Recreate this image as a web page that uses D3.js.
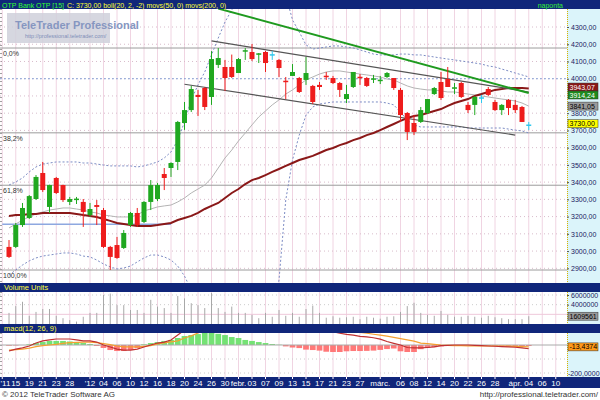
<!DOCTYPE html>
<html><head><meta charset="utf-8">
<script src="https://cdn.jsdelivr.net/npm/d3@7/dist/d3.min.js"></script>
<style>html,body{margin:0;padding:0;background:#fff;overflow:hidden}svg{display:block}</style>
</head><body><svg id="chart" width="600" height="400"></svg>
<script>
// ---------------- DATA ----------------
const dates = ["2011-12-13","2011-12-14","2011-12-15","2011-12-16","2011-12-19","2011-12-20","2011-12-21","2011-12-22","2011-12-23","2011-12-27","2011-12-28","2011-12-29","2011-12-30",
"2012-01-02","2012-01-03","2012-01-04","2012-01-05","2012-01-06","2012-01-09","2012-01-10","2012-01-11","2012-01-12","2012-01-13","2012-01-16","2012-01-17","2012-01-18","2012-01-19","2012-01-20","2012-01-23","2012-01-24","2012-01-25","2012-01-26","2012-01-27","2012-01-30","2012-01-31",
"2012-02-01","2012-02-02","2012-02-03","2012-02-06","2012-02-07","2012-02-08","2012-02-09","2012-02-10","2012-02-13","2012-02-14","2012-02-15","2012-02-16","2012-02-17","2012-02-20","2012-02-21","2012-02-22","2012-02-23","2012-02-24","2012-02-27","2012-02-28","2012-02-29",
"2012-03-01","2012-03-02","2012-03-05","2012-03-06","2012-03-07","2012-03-08","2012-03-09","2012-03-12","2012-03-13","2012-03-14","2012-03-19","2012-03-20","2012-03-21","2012-03-22","2012-03-23","2012-03-26","2012-03-27","2012-03-28","2012-03-29","2012-03-30",
"2012-04-02","2012-04-03","2012-04-04","2012-04-05","2012-04-06","2012-04-09","2012-04-10","2012-04-11"];

const candleDates = dates.slice(1, 79);

const open = [3024,3024,3151,3192,3302,3453,3256,3424,3383,3285,
3292,3285,3209,3267,3238,3024,3035,3018,3151,3221,
3169,3285,3302,3447,3482,3517,3743,3818,3906,3946,
3894,4080,4068,4068,4033,4155,4155,4138,4155,4138,
4109,3984,4016,4004,3993,3958,3964,4013,4004,3975,
3882,3952,4007,4004,3993,3984,4010,4004,3935,3801,
3743,3749,3801,3911,3981,3998,3943,3975,3848,3848,
3888,3940,3865,3818,3877,3848,3836,3730];
const high = [3064,3163,3279,3325,3441,3517,3385,3430,3385,3314,
3314,3302,3279,3296,3250,3030,3082,3122,3227,3250,
3290,3412,3395,3482,3515,3755,3865,3958,3935,3952,
4160,4178,4109,4140,4120,4178,4201,4149,4161,4161,
4114,4010,4085,4010,4126,3964,3981,4039,4016,3981,
3964,4039,4027,4010,4022,4016,4039,4004,3946,3807,
3789,3836,3882,3952,4039,4068,3975,3981,3865,3900,
3906,3952,3877,3853,3882,3877,3842,3749];
const low = [2960,3018,3140,3186,3296,3343,3221,3331,3285,3267,
3273,3140,3198,3151,3018,2890,2955,3012,3140,3140,
3163,3238,3290,3354,3430,3470,3703,3807,3784,3818,
3848,4062,3929,4004,4033,4109,4103,4091,4039,4109,
4010,3882,4016,3917,3964,3853,3935,3993,3969,3894,
3859,3946,3964,3952,3975,3969,4004,3935,3749,3644,
3673,3743,3795,3906,3877,3952,3911,3888,3801,3789,
3859,3900,3813,3789,3789,3801,3749,3702];
const close = [2966,3151,3250,3319,3430,3354,3383,3337,3296,3302,
3300,3227,3244,3256,3024,2966,2960,3105,3221,3151,
3285,3383,3383,3424,3511,3749,3818,3940,3894,3836,
4114,4120,4004,4010,4114,4161,4114,4143,4091,4138,
4062,3981,4039,3923,4033,3865,3952,4010,3975,3935,
3911,4039,4004,3958,3998,3990,4033,3946,3789,3691,
3691,3818,3882,3946,3888,3952,3946,3894,3818,3894,
3888,3906,3818,3848,3830,3818,3749,3730];

const bollMid = [3134,3157,3180,3198,3215,3227,3238,3244,3250,3250,
3244,3238,3227,3221,3209,3204,3198,3198,3198,3209,
3233,3244,3256,3262,3267,3285,3308,3337,3360,3383,
3424,3482,3540,3586,3639,3685,3732,3778,3813,3848,
3877,3911,3935,3964,3993,4010,4027,4039,4045,4045,
4039,4033,4027,4022,4016,4010,3998,3993,3975,3958,
3946,3940,3935,3935,3929,3923,3923,3917,3911,3906,
3900,3894,3888,3882,3877,3871,3859,3841];
const bollUp = [3383,3401,3424,3459,3488,3505,3511,3517,3517,3517,
3517,3511,3511,3505,3499,3494,3494,3494,3494,3488,
3494,3505,3517,3540,3575,3644,3749,3877,3964,4039,
4138,4236,4329,4399,4457,4503,4538,4561,4573,4573,
4544,4486,4341,4271,4196,4172,4178,4184,4190,4190,
4184,4178,4167,4155,4143,4138,4138,4138,4143,4143,
4138,4138,4132,4126,4120,4114,4109,4103,4097,4091,
4085,4074,4068,4056,4045,4033,4022,4010];
const bollLow = [2861,2890,2919,2943,2960,2971,2977,2983,2989,2989,
2983,2971,2966,2948,2925,2908,2896,2902,2913,2937,
2960,2977,2977,2966,2948,2913,2855,2774,2716,2687,
2658,2629,2600,2571,2542,2530,2519,2507,2496,2600,
2832,3296,3528,3673,3789,3836,3853,3859,3865,3865,
3865,3865,3865,3865,3865,3865,3859,3848,3807,3760,
3731,3720,3720,3720,3720,3720,3720,3720,3714,3714,
3714,3714,3714,3714,3708,3702,3697,3685];
const ma50 = [3204,3209,3209,3215,3215,3221,3221,3221,3221,3221,
3215,3209,3204,3198,3186,3175,3163,3157,3151,3146,
3146,3146,3151,3157,3163,3180,3192,3204,3221,3244,
3262,3279,3308,3337,3360,3389,3412,3424,3441,3459,
3476,3494,3511,3528,3540,3552,3569,3586,3598,3615,
3627,3644,3656,3673,3685,3702,3720,3737,3755,3772,
3784,3790,3801,3813,3824,3842,3859,3871,3882,3900,
3911,3923,3935,3940,3946,3946,3946,3943];

const volume = [2300000,3700000,4600000,1700000,2500000,3100000,3100000,1700000,1200000,800000,
500000,1500000,2300000,2300000,6000000,6300000,3900000,3900000,2900000,2900000,
2300000,5000000,3600000,3300000,2300000,5800000,5300000,4300000,3900000,3300000,
6400000,3300000,2500000,3600000,2300000,2300000,1900000,1200000,2300000,1500000,
2900000,1700000,2300000,1500000,3100000,3800000,2300000,1300000,1600000,1300000,
1400000,1500000,1000000,1500000,1300000,1100000,1500000,1600000,2500000,3700000,
4400000,2300000,1900000,1700000,2700000,1900000,1500000,1500000,1700000,1500000,
1300000,1700000,1400000,1200000,1000000,1000000,1000000,1609561];

const macd = [-43,-29,-21,-7,14,29,36,43,43,43,
36,29,29,21,0,-14,-29,-36,-36,-29,
-14,0,14,21,36,71,107,150,185,210,
240,260,270,275,275,270,262,252,240,228,
215,200,185,170,155,140,125,110,95,84,
76,70,62,58,52,42,25,12,0,-18,
-21,-21,-18,-14,-5,-2,0,0,0,-2,
-5,-7,-9,-12,-14,-16,-20,-27];
const signal = [-36,-33,-29,-22,-12,-5,0,5,12,17,
19,21,21,17,10,3,-7,-14,-14,-14,
-10,-5,8,15,22,30,50,65,86,110,
135,158,178,195,208,218,225,228,228,225,
220,213,205,196,185,173,160,146,132,118,
105,95,90,84,77,70,64,55,45,36,
28,14,10,5,0,-2,-5,-5,-6,-6,
-7,-7,-7,-7,-8,-10,-12,-13.4374];
const hist = [-5,-3,0,5,14,21,29,29,29,25,
21,14,7,-7,-21,-36,-43,-43,-36,-21,
5,14,21,29,36,50,64,71,78,86,
86,80,71,57,50,36,29,21,14,7,
2,-10,-18,-22,-33,-36,-40,-48,-50,-50,
-45,-43,-43,-42,-40,-35,-29,-25,-45,-50,
-50,-30,-21,-15,-10,-5,-3,-2,-2,-3,
-3,-3,-4,-4,-5,-6,-7,-7];

const tickDates = ["2011-12-13","2011-12-15","2011-12-19","2011-12-21","2011-12-23","2011-12-28","2012-01-02","2012-01-04","2012-01-06","2012-01-10","2012-01-12","2012-01-16","2012-01-18","2012-01-20","2012-01-24","2012-01-26","2012-01-30","2012-02-01","2012-02-03","2012-02-07","2012-02-09","2012-02-13","2012-02-15","2012-02-17","2012-02-21","2012-02-23","2012-02-27","2012-03-01","2012-03-06","2012-03-08","2012-03-12","2012-03-14","2012-03-20","2012-03-22","2012-03-26","2012-03-28","2012-04-02","2012-04-04","2012-04-06","2012-04-10"];
const tickLabels = ["'11","15","19","21","23","28","'12","04","06","10","12","16","18","20","24","26","30","febr.","03","07","09","13","15","17","21","23","27","márc.","06","08","12","14","20","22","26","28","ápr.","04","06","10"];

const priceTicks = [2900,3000,3100,3200,3300,3400,3500,3600,3700,3800,3900,4000,4100,4200,4300];
const priceLabelTicks = [2900,3000,3100,3200,3300,3400,3500,3600,3700,3800,4000,4100,4200,4300];
const volTicks = [6000000,4000000];
const fibHigh = 4178, fibLow = 2890;
const fibLevels = [0, 0.382, 0.618, 1];
const fibLabels = ["0,0%","38,2%","61,8%","100,0%"];
const upperChannel = [{d:"2012-01-26", v:4219},{d:"2012-04-04", v:3923}];
const lowerChannel = [{d:"2012-01-20", v:3968},{d:"2012-04-02", v:3673}];
const greenTrend = [{d:"2012-01-27", v:4407},{d:"2012-04-04", v:3917}];
const supportLine = [{d:"2011-12-13", v:3155},{d:"2012-01-18", v:3155}];
const level4000 = 4000;

const title1 = "OTP Bank OTP [15]";
const title2 = "C: 3730,00 boll(20, 2, -2) movs(50, 0) movs(200, 0)";

// ---------------- LAYOUT ----------------
const W = 600, H = 400, R = 567;
const NAVY = "#10267a", CY = "#dbf4fa", FONT = "Liberation Sans, Arial, sans-serif";
const main = {t:9, b:283}, vol = {t:292, b:324}, mac = {t:333, b:377};

const svg = d3.select("#chart").style("font-family", FONT);
const defs = svg.append("defs");
function clip(id, y0, y1){ defs.append("clipPath").attr("id", id).append("rect").attr("x",0).attr("y",y0).attr("width",R).attr("height",y1-y0); }
clip("cm", main.t, main.b); clip("cv", vol.t, vol.b); clip("cd", mac.t, mac.b);

const step = 6.75;
const x = d3.scaleBand().domain(dates).range([-1.125, -1.125 + dates.length*step]).padding(0);
const cx = d => x(d) + x.bandwidth()/2;
const y = d3.scaleLinear().domain([2900, 4300]).range([268.3, 27]);
const yv = d3.scaleLinear().domain([0, 6000000]).range([324, 295]);
const ym = d3.scaleLinear().domain([-200, 0]).range([373, 345]);

svg.append("rect").attr("width",W).attr("height",H).attr("fill","#fff");
[[0,9],[283,292],[324,333],[377,388]].forEach(([a,b])=>svg.append("rect").attr("x",0).attr("y",a).attr("width",W).attr("height",b-a).attr("fill",NAVY));
[main, vol, mac].forEach(p=>svg.append("rect").attr("x",R).attr("y",p.t).attr("width",W-R).attr("height",p.b-p.t).attr("fill",CY));

[main, vol, mac].forEach(p=>{
  svg.append("g").selectAll("line").data(tickDates).join("line")
    .attr("x1",d=>cx(d)).attr("x2",d=>cx(d)).attr("y1",p.t).attr("y2",p.b)
    .attr("stroke","#f0d4e2").attr("stroke-width",1);
  svg.append("line").attr("x1",R+0.5).attr("x2",R+0.5).attr("y1",p.t).attr("y2",p.b)
    .attr("stroke","#d8b400").attr("stroke-dasharray","1,1");
  svg.append("line").attr("x1",1).attr("x2",1).attr("y1",p.t).attr("y2",p.b)
    .attr("stroke","#444").attr("stroke-dasharray","1,3");
});

// ---------- MAIN ----------
const gm = svg.append("g").attr("clip-path","url(#cm)");
gm.selectAll(".hg").data(priceTicks).join("line")
  .attr("x1",0).attr("x2",R).attr("y1",d=>y(d)).attr("y2",d=>y(d))
  .attr("stroke","#d8bccb").attr("stroke-dasharray","1,3");
gm.append("line").attr("x1",0).attr("x2",R).attr("y1",y(level4000)).attr("y2",y(level4000))
  .attr("stroke","#8ea6d8").attr("stroke-dasharray","2,2");
fibLevels.forEach((f,i)=>{
  const v = fibHigh - f*(fibHigh-fibLow);
  gm.append("line").attr("x1",0).attr("x2",R).attr("y1",y(v)).attr("y2",y(v)).attr("stroke","#9c9c9c");
  gm.append("text").attr("x",3).attr("y",y(v)+8).attr("font-size",7).attr("fill","#333").text(fibLabels[i]);
});
const lineP = (arr, sc) => d3.line().x(p=>cx(p.d)).y(p=>sc(p.v))(arr);
gm.append("path").attr("d",lineP(supportLine,y)).attr("stroke","#8ea8e0").attr("stroke-width",1.5).attr("fill","none");

const series = (vals) => vals.map((v,i)=>({d:candleDates[i], v}));
gm.append("path").attr("d",lineP(series(bollUp),y)).attr("fill","none").attr("stroke","#7c8cc4").attr("stroke-dasharray","2,2");
gm.append("path").attr("d",lineP(series(bollLow),y)).attr("fill","none").attr("stroke","#7c8cc4").attr("stroke-dasharray","2,2");
gm.append("path").attr("d",lineP(series(bollMid),y)).attr("fill","none").attr("stroke","#b4b4b4");
gm.append("path").attr("d",lineP(series(ma50),y)).attr("fill","none").attr("stroke","#8a1818").attr("stroke-width",2);
gm.append("path").attr("d",lineP(upperChannel,y)).attr("stroke","#555").attr("stroke-width",1.2).attr("fill","none");
gm.append("path").attr("d",lineP(lowerChannel,y)).attr("stroke","#555").attr("stroke-width",1.2).attr("fill","none");
gm.append("path").attr("d",lineP(greenTrend,y)).attr("stroke","#1f9a1f").attr("stroke-width",2).attr("fill","none");

const candles = candleDates.map((d,i)=>({d,o:open[i],h:high[i],l:low[i],c:close[i]}));
const col = c => c.c>c.o ? "#20a820" : (c.c<c.o ? "#ee1c1c" : "#30c8ee");
const cg = gm.append("g").selectAll("g").data(candles).join("g");
cg.append("line").attr("x1",c=>cx(c.d)).attr("x2",c=>cx(c.d)).attr("y1",c=>y(c.h)).attr("y2",c=>y(c.l)).attr("stroke",col);
cg.append("rect").attr("x",c=>cx(c.d)-2.5).attr("width",5)
  .attr("y",c=>y(Math.max(c.o,c.c)) - (Math.abs(y(c.o)-y(c.c))<1.5?0.75:0))
  .attr("height",c=>Math.max(1.5, Math.abs(y(c.o)-y(c.c))))
  .attr("fill",col);

// watermark
svg.append("rect").attr("x",7).attr("y",13).attr("width",103).attr("height",30).attr("fill","#cfd0da").attr("opacity",0.85);
svg.append("text").attr("x",15).attr("y",29).attr("font-size",11).attr("font-weight","bold").attr("fill","#8696c0").text("TeleTrader Professional");
svg.append("text").attr("x",25).attr("y",38).attr("font-size",5.5).attr("fill","#7f8fb8").text("http://professional.teletrader.com/");

// right price axis
const fmt2 = v => d3.format(".2f")(v).replace(".", ",");
const AXF = 7;
const ax = svg.append("g").attr("transform",`translate(${R},0)`).call(d3.axisRight(y).tickValues(priceLabelTicks).tickSize(2).tickPadding(2).tickFormat(fmt2));
ax.select(".domain").remove();
ax.selectAll("text").attr("font-size",AXF).attr("fill","#1c2060").attr("font-family",FONT);
ax.selectAll("line").attr("stroke","#555");
function tag(v, sc, text, bg, fg, shift){
  const yy = sc(v) + (shift||0);
  svg.append("rect").attr("x",R+1).attr("y",yy-4).attr("width",30).attr("height",8).attr("fill",bg).attr("stroke","#333").attr("stroke-width",0.5);
  svg.append("text").attr("x",R+2.5).attr("y",yy+2.6).attr("font-size",AXF).attr("fill",fg).text(text);
}
tag(ma50[ma50.length-1], y, "3943,07", "#8a1818", "#fff", -1.5);
tag(3914.24, y, "3914,24", "#1f8a1f", "#fff", 1.5);
tag(bollMid[bollMid.length-1], y, "3841,05", "#9a9a9a", "#000");
tag(close[close.length-1], y, "3730,00", "#ffff00", "#000", -1.5);

// ---------- VOLUME ----------
const gv = svg.append("g").attr("clip-path","url(#cv)");
gv.append("line").attr("x1",0).attr("x2",R).attr("y1",yv(2000000)).attr("y2",yv(2000000)).attr("stroke","#efc8da");
volTicks.forEach(t=>gv.append("line").attr("x1",0).attr("x2",R).attr("y1",yv(t)).attr("y2",yv(t)).attr("stroke","#ccc").attr("stroke-dasharray","1,3"));
gv.selectAll(".v").data(candleDates).join("line")
  .attr("x1",d=>cx(d)).attr("x2",d=>cx(d)).attr("y1",yv(0)).attr("y2",(d,i)=>yv(volume[i]))
  .attr("stroke","#a8a8a8");
const av = svg.append("g").attr("transform",`translate(${R},0)`).call(d3.axisRight(yv).tickValues(volTicks).tickSize(2).tickPadding(2).tickFormat(d3.format("d")));
av.select(".domain").remove();
av.selectAll("text").attr("font-size",AXF).attr("fill","#1c2060").attr("font-family",FONT);
av.selectAll("line").attr("stroke","#555");
tag(volume[volume.length-1], yv, "1609561", "#9a9a9a", "#000");
svg.append("text").attr("x",4).attr("y",290).attr("font-size",7.5).attr("fill","#ffff40").text("Volume Units");

// ---------- MACD ----------
const gd = svg.append("g").attr("clip-path","url(#cd)");
[-100,-200].forEach(t=>gd.append("line").attr("x1",0).attr("x2",R).attr("y1",ym(t)).attr("y2",ym(t)).attr("stroke","#ccc").attr("stroke-dasharray","1,3"));
gd.selectAll(".h").data(candleDates).join("rect")
  .attr("x",d=>x(d)+0.5).attr("width",step-1)
  .attr("y",(d,i)=>Math.min(ym(0),ym(hist[i]))).attr("height",(d,i)=>Math.abs(ym(hist[i])-ym(0)))
  .attr("fill",(d,i)=>hist[i]>=0?"#74e274":"#ff7878");
gd.append("line").attr("x1",0).attr("x2",R).attr("y1",ym(0)).attr("y2",ym(0)).attr("stroke","#aaa");
gd.append("path").attr("d",lineP(series(signal),ym)).attr("fill","none").attr("stroke","#f5a030").attr("stroke-width",1.2);
gd.append("path").attr("d",lineP(series(macd),ym)).attr("fill","none").attr("stroke","#c03030").attr("stroke-width",1.2);
svg.append("text").attr("x",4).attr("y",331).attr("font-size",7.5).attr("fill","#ffff40").text("macd(12, 26, 9)");
svg.append("text").attr("x",R+1).attr("y",ym(-200)+2.5).attr("font-size",AXF).attr("fill","#1c2060").text("-200,0000");
tag(signal[signal.length-1], ym, "-13,4374", "#ff9a1a", "#000");

// ---------- X AXIS ----------
const axx = svg.append("g").attr("transform","translate(0,377)").call(d3.axisBottom(x).tickValues(tickDates).tickSize(2).tickPadding(1).tickFormat((d,i)=>tickLabels[i]));
axx.select(".domain").remove();
axx.selectAll("line").attr("stroke","#fff");
axx.selectAll("text").attr("font-size",8).attr("fill","#fff").attr("font-family",FONT);
axx.selectAll("text").filter((d,i)=>i===0).attr("text-anchor","start").attr("x",0.5-cx(tickDates[0]));

// ---------- HEADER / FOOTER ----------
const t1 = svg.append("text").attr("x",2).attr("y",7.5).attr("font-size",7).attr("fill","#33ff33").text(title1);
const w1 = t1.node().getComputedTextLength();
svg.append("text").attr("x",2+w1+3).attr("y",7.5).attr("font-size",7).attr("fill","#ffff33").text(title2);
svg.append("text").attr("x",563).attr("y",7.5).attr("font-size",7).attr("fill","#33ee33").attr("text-anchor","end").text("naponta");
svg.append("text").attr("x",2).attr("y",397).attr("font-size",8).attr("fill","#333").text("© 2012 TeleTrader Software AG");
svg.append("text").attr("x",598).attr("y",397).attr("font-size",8).attr("fill","#333").attr("text-anchor","end").text("http://professional.teletrader.com/");
</script></body></html>
